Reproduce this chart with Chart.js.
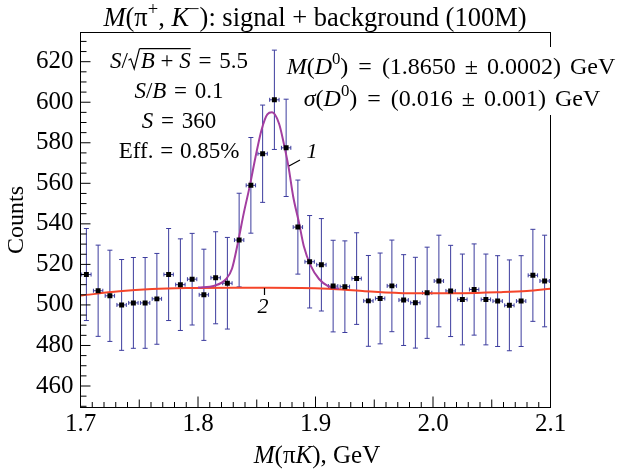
<!DOCTYPE html>
<html>
<head>
<meta charset="utf-8">
<script src="https://cdn.jsdelivr.net/npm/chart.js@4/dist/chart.umd.min.js"></script>
<style>
  html, body { margin: 0; padding: 0; background: #fff; }
</style>
</head>
<body>
<canvas id="massChart" width="625" height="470"></canvas>
<script>
// bin centres, GeV
const massBins = [1.705, 1.715, 1.725, 1.735, 1.745, 1.755, 1.765, 1.775, 1.785, 1.795,
                  1.805, 1.815, 1.825, 1.835, 1.845, 1.855, 1.865, 1.875, 1.885, 1.895,
                  1.905, 1.915, 1.925, 1.935, 1.945, 1.955, 1.965, 1.975, 1.985, 1.995,
                  2.005, 2.015, 2.025, 2.035, 2.045, 2.055, 2.065, 2.075, 2.085, 2.095];
const counts = [515, 507, 504.5, 500, 501, 501, 503, 515, 510, 512.7,
                505, 513.4, 510.7, 532, 559, 574.6, 601.2, 577.5, 538.4, 521.3,
                519.8, 509.3, 509, 513, 502, 503.2, 509.4, 502.4, 501.1, 506,
                511.8, 506.9, 502.7, 507.6, 502.7, 501.9, 499.8, 501.9, 514.6, 511.8];
const countErr = [22.7, 22.5, 22.5, 22.4, 22.4, 22.4, 22.4, 22.7, 22.6, 22.6,
                  22.5, 22.7, 22.6, 23.1, 23.6, 24.0, 24.5, 24.0, 23.2, 22.8,
                  22.8, 22.6, 22.6, 22.6, 22.4, 22.4, 22.6, 22.4, 22.4, 22.5,
                  22.6, 22.5, 22.4, 22.5, 22.4, 22.4, 22.4, 22.4, 22.7, 22.6];

// curve 1: signal + background fit
const fitMass = [1.800, 1.814, 1.824, 1.829, 1.834, 1.839, 1.844, 1.849, 1.854, 1.859, 1.863,
                 1.869, 1.873, 1.877, 1.881, 1.886, 1.890, 1.896, 1.903, 1.911, 1.920];
const fitTotal = [508.6, 509.5, 512.8, 518.0, 530.8, 545.4, 558.5, 573.1, 586.2, 594.0, 595.0,
                  589.4, 579.7, 568.2, 553.5, 540.5, 529.1, 519.3, 512.8, 509.2, 508.0];
// curve 2: background only
const bkgMass = [1.700, 1.733, 1.761, 1.790, 1.830, 1.860, 1.911, 1.940, 1.980, 2.025, 2.058, 2.080, 2.100];
const bkgCounts = [504.6, 506.7, 507.8, 508.3, 508.5, 508.5, 508.0, 506.9, 505.8, 505.8, 506.3, 506.9, 508.0];

const xTicks = [1.7, 1.8, 1.9, 2.0, 2.1];
const yTicks = [460, 480, 500, 520, 540, 560, 580, 600, 620];

const serif = '"Liberation Serif", "Times New Roman", serif';

function fontOf(r, size) {
  return (r.i ? 'italic ' : '') + (size * (r.s || 1)) + 'px ' + serif;
}

// draw a line of mixed roman / italic / superscript text, centred at cx
// r.g = extra gap before the run (math spacing)
function drawRuns(ctx, runs, size, cx, base) {
  let w = 0;
  for (const r of runs) {
    ctx.font = fontOf(r, size);
    w += ctx.measureText(r.t).width + (r.sqrt ? size * 0.55 : 0) + (r.g || 0);
  }
  let x = cx - w / 2;
  let ovStart = null, ovEnd = null;
  ctx.fillStyle = '#000';
  ctx.textBaseline = 'alphabetic';
  ctx.textAlign = 'left';
  for (const r of runs) {
    x += r.g || 0;
    if (r.sqrt) {
      ctx.strokeStyle = '#000';
      ctx.lineWidth = 1.2;
      ctx.beginPath();
      ctx.moveTo(x + 0.02 * size, base - 0.34 * size);
      ctx.lineTo(x + 0.12 * size, base - 0.40 * size);
      ctx.lineTo(x + 0.27 * size, base + 0.04 * size);
      ctx.lineTo(x + 0.50 * size, base - 0.84 * size);
      ctx.stroke();
      ovStart = x + 0.50 * size;
      x += 0.55 * size;
    }
    ctx.font = fontOf(r, size);
    ctx.fillText(r.t, x, base + (r.dy || 0) * size);
    x += ctx.measureText(r.t).width;
    if (r.ov) ovEnd = x;
  }
  if (ovStart !== null && ovEnd !== null) {
    ctx.beginPath();
    ctx.moveTo(ovStart, base - 0.84 * size);
    ctx.lineTo(ovEnd, base - 0.84 * size);
    ctx.stroke();
  }
}

const sup = { s: 0.7, dy: -0.4 };

const decor = {
  id: 'decor',
  beforeDatasetsDraw(chart) {
    const ctx = chart.ctx, xs = chart.scales.x, ys = chart.scales.y;
    ctx.save();
    ctx.strokeStyle = '#3c3c9e';
    ctx.lineWidth = 1;
    for (let i = 0; i < massBins.length; i++) {
      const px = xs.getPixelForValue(massBins[i]);
      const py = ys.getPixelForValue(counts[i]);
      const top = ys.getPixelForValue(counts[i] + countErr[i]);
      const bot = ys.getPixelForValue(counts[i] - countErr[i]);
      const hl = xs.getPixelForValue(massBins[i] - 0.004);
      const hr = xs.getPixelForValue(massBins[i] + 0.004);
      ctx.beginPath();
      ctx.moveTo(px, top); ctx.lineTo(px, bot);
      ctx.moveTo(px - 2.5, top); ctx.lineTo(px + 2.5, top);
      ctx.moveTo(px - 2.5, bot); ctx.lineTo(px + 2.5, bot);
      ctx.moveTo(hl, py); ctx.lineTo(hr, py);
      ctx.moveTo(hl, py - 2); ctx.lineTo(hl, py + 2);
      ctx.moveTo(hr, py - 2); ctx.lineTo(hr, py + 2);
      ctx.stroke();
    }
    ctx.restore();
  },
  afterDatasetsDraw(chart) {
    const ctx = chart.ctx, xs = chart.scales.x, ys = chart.scales.y;
    const a = chart.chartArea;
    ctx.save();
    ctx.strokeStyle = '#000';
    ctx.lineWidth = 1;
    ctx.strokeRect(a.left, a.top, a.right - a.left, a.bottom - a.top);
    // inward ticks
    ctx.beginPath();
    for (let k = 0; k <= 40; k++) {
      const px = xs.getPixelForValue(1.7 + k * 0.01);
      const len = k % 10 === 0 ? 11 : (k % 5 === 0 ? 8 : 5.5);
      ctx.moveTo(px, a.bottom); ctx.lineTo(px, a.bottom - len);
    }
    for (let v = 450; v <= 630; v += 5) {
      const py = ys.getPixelForValue(v);
      const len = v % 20 === 0 ? 10 : 6;
      ctx.moveTo(a.left, py); ctx.lineTo(a.left + len, py);
    }
    ctx.stroke();

    // white boxes behind the fit results
    ctx.fillStyle = '#fff';
    ctx.fillRect(281, 47, 344, 33);
    ctx.fillRect(294, 80, 331, 35);

    // title
    drawRuns(ctx, [{ t: 'M', i: 1 }, { t: '(π' }, { t: '+', ...sup }, { t: ', ' },
                   { t: 'K', i: 1 }, { t: '−', ...sup }, { t: '): signal + background (100M)' }],
             26.5, 315, 26);
    // left block
    drawRuns(ctx, [{ t: 'S', i: 1 }, { t: '/' }, { t: 'B', i: 1, ov: 1, sqrt: 1 }, { t: ' + ', ov: 1 },
                   { t: 'S', i: 1, ov: 1 }, { t: ' = ', g: 2 }, { t: '5.5', g: 2 }], 23, 179, 68);
    drawRuns(ctx, [{ t: 'S', i: 1 }, { t: '/' }, { t: 'B', i: 1 }, { t: ' = ', g: 2 }, { t: '0.1', g: 2 }], 23, 179, 98);
    drawRuns(ctx, [{ t: 'S', i: 1 }, { t: ' = ', g: 2 }, { t: '360', g: 2 }], 23, 179, 128);
    drawRuns(ctx, [{ t: 'Eff.' }, { t: ' = ', g: 1 }, { t: '0.85%', g: 1 }], 23, 179, 158);
    // fit results
    drawRuns(ctx, [{ t: 'M', i: 1 }, { t: '(' }, { t: 'D', i: 1 }, { t: '0', ...sup },
                   { t: ')' }, { t: ' = ', g: 4 }, { t: '(1.8650', g: 4 }, { t: ' ± ', g: 3 },
                   { t: '0.0002)', g: 3 }, { t: ' GeV', g: 3 }], 24, 451, 74);
    drawRuns(ctx, [{ t: 'σ', i: 1 }, { t: '(' }, { t: 'D', i: 1 }, { t: '0', ...sup },
                   { t: ')' }, { t: ' = ', g: 4 }, { t: '(0.016', g: 4 }, { t: ' ± ', g: 3 },
                   { t: '0.001)', g: 3 }, { t: ' GeV', g: 3 }], 24, 452, 106);
    // x axis title
    drawRuns(ctx, [{ t: 'M', i: 1 }, { t: '(π' }, { t: 'K', i: 1 }, { t: '), GeV' }], 25, 317, 463);

    // curve labels
    ctx.beginPath();
    ctx.moveTo(289, 166); ctx.lineTo(300, 160);
    ctx.moveTo(264.5, 288); ctx.lineTo(264.5, 295);
    ctx.stroke();
    drawRuns(ctx, [{ t: '1', i: 1 }], 22, 312, 158);
    drawRuns(ctx, [{ t: '2', i: 1 }], 22, 263, 313);
    ctx.restore();
  }
};

const ctx = document.getElementById('massChart').getContext('2d');
const massChart = new Chart(ctx, {
  type: 'scatter',
  data: {
    datasets: [
      {
        label: 'data',
        data: massBins.map((m, i) => ({ x: m, y: counts[i] })),
        pointStyle: 'rect',
        pointRadius: 3.5,
        pointBorderWidth: 0,
        backgroundColor: '#000',
        borderColor: '#000',
        order: 0
      },
      {
        label: 'signal + background',
        data: fitMass.map((m, i) => ({ x: m, y: fitTotal[i] })),
        showLine: true,
        pointRadius: 0,
        borderColor: '#a33ea0',
        borderWidth: 2,
        cubicInterpolationMode: 'monotone',
        order: 1
      },
      {
        label: 'background',
        data: bkgMass.map((m, i) => ({ x: m, y: bkgCounts[i] })),
        showLine: true,
        pointRadius: 0,
        borderColor: '#f5452a',
        borderWidth: 2,
        cubicInterpolationMode: 'monotone',
        order: 2
      }
    ]
  },
  options: {
    responsive: false,
    devicePixelRatio: 1,
    animation: false,
    layout: { padding: { top: 32.5, right: 74.5, bottom: 0, left: 0 } },
    plugins: { legend: { display: false }, tooltip: { enabled: false }, title: { display: false } },
    scales: {
      x: {
        type: 'linear',
        min: 1.7,
        max: 2.1,
        afterBuildTicks: (s) => { s.ticks = xTicks.map(v => ({ value: v })); },
        afterFit: (s) => { s.height = 62.5; },
        grid: { display: false, drawTicks: false },
        border: { display: false },
        ticks: {
          color: '#000',
          padding: 2,
          maxRotation: 0,
          autoSkip: false,
          font: { family: serif, size: 25 },
          callback: (v) => Number(v).toFixed(1)
        }
      },
      y: {
        min: 449.4,
        max: 634.4,
        afterBuildTicks: (s) => { s.ticks = yTicks.map(v => ({ value: v })); },
        afterFit: (s) => { s.width = 80.5; },
        grid: { display: false, drawTicks: false },
        border: { display: false },
        ticks: {
          color: '#000',
          padding: 7,
          font: { family: serif, size: 25 }
        },
        title: {
          display: true,
          text: 'Counts',
          color: '#000',
          padding: { top: 2.4, bottom: 0 },
          font: { family: serif, size: 24 }
        }
      }
    }
  },
  plugins: [decor]
});
</script>
</body>
</html>
